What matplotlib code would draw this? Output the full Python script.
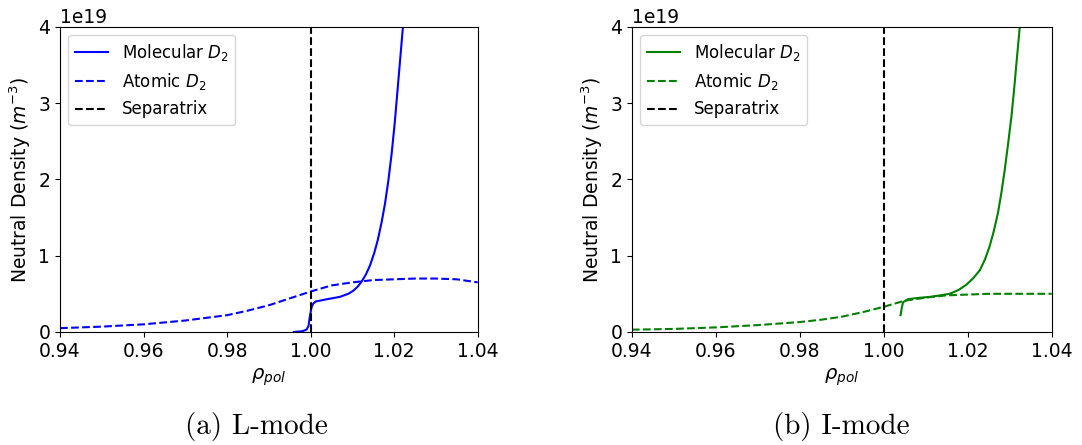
import matplotlib.pyplot as plt

# L-mode
l_mol_rho = [0.9960, 0.9970, 0.9980, 0.9990, 0.9995, 0.9998, 1.0002, 1.0006, 1.0012, 1.0022,
             1.0040, 1.0070, 1.0090, 1.0102, 1.0112, 1.0122, 1.0132, 1.0142, 1.0152,
             1.0161, 1.0170, 1.0178, 1.0186, 1.0194, 1.0201, 1.0207, 1.0214, 1.0221, 1.0230]
l_mol_n = [0.0, 0.005, 0.01, 0.03, 0.08, 0.20, 0.32, 0.37, 0.40, 0.41,
           0.43, 0.46, 0.50, 0.54, 0.59, 0.66, 0.75, 0.87, 1.03,
           1.21, 1.44, 1.68, 1.98, 2.34, 2.72, 3.10, 3.55, 4.0, 4.6]
l_atom_rho = [0.94, 0.95, 0.96, 0.97, 0.98, 0.985, 0.99, 0.995, 1.00, 1.005,
              1.01, 1.015, 1.02, 1.025, 1.03, 1.035, 1.04]
l_atom_n = [0.05, 0.07, 0.10, 0.15, 0.22, 0.28, 0.35, 0.44, 0.53, 0.61,
            0.65, 0.68, 0.69, 0.70, 0.70, 0.69, 0.65]

# I-mode
i_mol_rho = [1.0040, 1.0043, 1.0046, 1.0052, 1.0058, 1.0080, 1.0110, 1.0135, 1.0157, 1.0178,
             1.0197, 1.0214, 1.0229, 1.0241, 1.0252, 1.0262, 1.0272, 1.0280, 1.0288,
             1.0296, 1.0304, 1.0310, 1.0316, 1.0324, 1.0330]
i_mol_n = [0.22, 0.32, 0.39, 0.41, 0.43, 0.445, 0.46, 0.48, 0.50, 0.55,
           0.62, 0.71, 0.81, 0.95, 1.12, 1.32, 1.56, 1.82, 2.12,
           2.46, 2.82, 3.15, 3.52, 4.0, 4.4]
i_atom_rho = [0.94, 0.95, 0.96, 0.97, 0.98, 0.985, 0.99, 0.995, 1.00, 1.005,
              1.01, 1.015, 1.02, 1.025, 1.03, 1.04]
i_atom_n = [0.03, 0.04, 0.06, 0.09, 0.13, 0.16, 0.20, 0.26, 0.33, 0.41,
            0.45, 0.48, 0.49, 0.50, 0.50, 0.50]

separatrix = 1.0
xticks = [0.94, 0.96, 0.98, 1.00, 1.02, 1.04]
yticks = [0, 1, 2, 3, 4]

fig = plt.figure(figsize=(10.82, 4.45), dpi=100)
ax1 = fig.add_axes([0.0555, 0.254, 0.386, 0.686])
ax2 = fig.add_axes([0.584, 0.254, 0.388, 0.686])

panels = [
    (ax1, 'blue', l_mol_rho, l_mol_n, l_atom_rho, l_atom_n, '(a) L-mode', 0.471),
    (ax2, 'green', i_mol_rho, i_mol_n, i_atom_rho, i_atom_n, '(b) I-mode', 0.498),
]

for ax, c, mr, mn, ar, an, caption, cx in panels:
    ax.plot(mr, [v * 1e19 for v in mn], color=c, lw=1.5, label='Molecular $D_2$')
    ax.plot(ar, [v * 1e19 for v in an], color=c, lw=1.5, ls='--', label='Atomic $D_2$')
    ax.axvline(separatrix, color='black', lw=1.5, ls='--', label='Separatrix')
    ax.set_xlim(0.94, 1.04)
    ax.set_ylim(0, 4e19)
    ax.set_xticks(xticks)
    ax.set_yticks([v * 1e19 for v in yticks])
    ax.tick_params(labelsize=13.5)
    ax.yaxis.get_offset_text().set_fontsize(13.5)
    ax.set_xlabel(r'$\rho_{pol}$', fontsize=14)
    ax.set_ylabel('Neutral Density ($m^{-3}$)', fontsize=13.5)
    ax.legend(loc='upper left', fontsize=12)
    ax.text(cx, -0.31, caption, transform=ax.transAxes, ha='center', va='center',
            fontsize=21, family='cmr10')

fig.savefig('out.png', dpi=100)
